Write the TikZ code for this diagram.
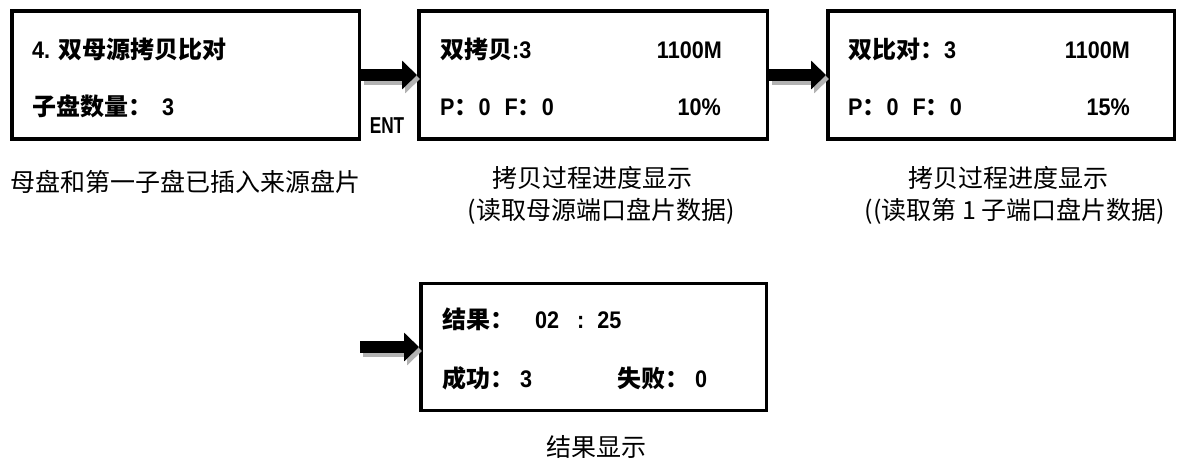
\documentclass[tikz,border=0pt]{standalone}
\usepackage{fontspec}
\setmainfont{Liberation Sans}[FakeStretch=0.9]
\newfontfamily\cjk{Noto Sans CJK SC}
\newfontfamily\entfont{Liberation Sans}[FakeStretch=0.75]
\usetikzlibrary{arrows.meta}
\newcommand\zh[1]{{\cjk\fontsize{24}{28}\selectfont #1}}
\begin{document}
\begin{tikzpicture}[x=1pt,y=-1pt,
  lcd/.style={draw, line width=3.5pt, inner sep=0pt, minimum width=#1, minimum height=128pt},
  bt/.style={font=\fontsize{24}{28}\selectfont\bfseries, inner sep=0pt, anchor=base west},
  bte/.style={bt, anchor=base east},
  captxt/.style={font=\cjk\fontsize{25}{30}\selectfont, inner sep=0pt, anchor=base},
  blk/.style={line width=12pt, -{Triangle[length=15pt,width=28pt]}},
  shd/.style={blk, draw=black!30, fill=black!30}]
\useasboundingbox (0,0) rectangle (1180,461);

% boxes
\node[lcd=347.5pt] (b1) at (185.5,75) {};
\node[lcd=348.5pt] (b2) at (593,75) {};
\node[lcd=346.5pt] (b3) at (1001,75) {};
\node[lcd=345.5pt, minimum height=127pt] (b4) at (593.5,347) {};

% box 1 text
\node[bt] (t11) at (32,58) {4. \zh{双母源拷贝比对}};
\node[bt] (t12) at (32,115) {\zh{子盘数量：}\hspace{10pt}3};

% box 2 text
\node[bt] (t21) at (440,58) {\zh{双拷贝}:3};
\node[bte] (t22) at (722,58) {1100M};
\node[bt] (t23) at (440,115) {P\zh{：}0\hspace{14pt}F\zh{：}0};
\node[bte] (t24) at (721,115) {10\%};

% box 3 text
\node[bt] (t31) at (848,58) {\zh{双比对：}3};
\node[bte] (t32) at (1130,58) {1100M};
\node[bt] (t33) at (848,115) {P\zh{：}0\hspace{14pt}F\zh{：}0};
\node[bte] (t34) at (1130,115) {15\%};

% box 4 text
\node[bt] (t41) at (442,328) {\zh{结果：}};
\node[bt] (t42) at (535,328) {02\hspace{18pt}:\hspace{13pt}25};
\node[bt] (t43) at (442,387) {\zh{成功：}\hspace{6pt}3};
\node[bt] (t44) at (617,387) {\zh{失败：}\hspace{6pt}0};

% ENT
\node[font=\entfont\bfseries\fontsize{23}{26}\selectfont, inner sep=0pt, anchor=base] (ent) at (387,133) {ENT};

% captions
\node[captxt] (c1) at (185,191) {母盘和第一子盘已插入来源盘片};
\node[captxt] (c2a) at (592,187) {拷贝过程进度显示};
\node[captxt] (c2b) at (601,219) {(读取母源端口盘片数据)};
\node[captxt] (c3a) at (1008,187) {拷贝过程进度显示};
\node[captxt] (c3b) at (1015,219) {((读取第 1 子端口盘片数据)};
\node[captxt] (c4) at (596,456) {结果显示};

% arrows
\coordinate (a3) at (360,347);
\draw[shd] ([shift={(3,4)}]b1.east) -- ([shift={(3,4)}]b2.west);
\draw[blk] (b1.east) -- (b2.west);
\draw[shd] ([shift={(3,4)}]b2.east) -- ([shift={(3,4)}]b3.west);
\draw[blk] (b2.east) -- (b3.west);
\draw[shd] ([shift={(3,4)}]a3) -- ([shift={(3,4)}]b4.west);
\draw[blk] (a3) -- (b4.west);
\end{tikzpicture}
\end{document}
